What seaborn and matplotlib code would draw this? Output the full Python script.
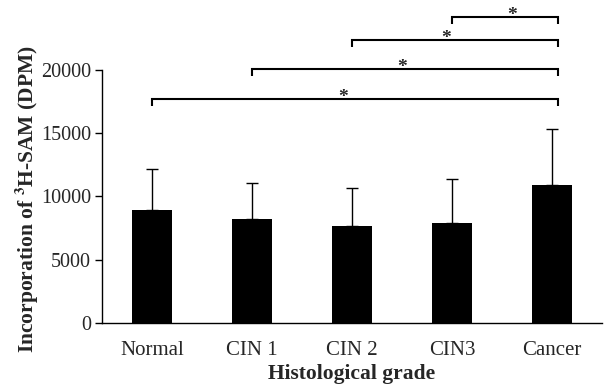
"""
Bar chart: 3H-SAM incorporation by histological grade.
"""

import numpy as np
import pandas as pd
import matplotlib
matplotlib.use("Agg")
import matplotlib.pyplot as plt
import seaborn as sns

grades = ["Normal", "CIN 1", "CIN 2", "CIN3", "Cancer"]
means = [8900, 8190, 7690, 7880, 10930]
sds = [3280, 2900, 2950, 3530, 4400]

# significance brackets: (left group, right group, bracket level)
pairs_left = [0, 1, 2, 3]
pairs_right = [4, 4, 4, 4]
bracket_levels = [17700, 20050, 22370, 24170]
star_offsets = [-0.09, -0.0, -0.06, 0.1]


def main():
    sns.set_theme(style="white")
    plt.rcParams["font.family"] = ["Liberation Serif", "DejaVu Serif"]
    plt.rcParams["mathtext.fontset"] = "stix"

    df = pd.DataFrame({"grade": grades, "mean": means, "sd": sds})

    fig = plt.figure(figsize=(6.05, 3.87), dpi=100)
    ax = fig.add_axes([102 / 605, 64 / 387, 500 / 605, 323 / 387])

    sns.barplot(data=df, x="grade", y="mean", color="black", width=0.4,
                edgecolor="none", saturation=1, errorbar=None, ax=ax)
    xs = [p.get_x() + p.get_width() / 2 for p in ax.patches]
    ax.errorbar(xs, df["mean"], yerr=[np.zeros(len(sds)), df["sd"]],
                fmt="none", ecolor="black", elinewidth=1, capsize=4,
                capthick=1)

    ax.set_xlim(-0.5, 4.5)
    ax.set_ylim(0, 25530)
    ax.set_yticks([0, 5000, 10000, 15000, 20000])
    ax.spines["left"].set_bounds(0, 20000)
    for s in ["top", "right"]:
        ax.spines[s].set_visible(False)
    for s in ["left", "bottom"]:
        ax.spines[s].set_color("black")
        ax.spines[s].set_linewidth(1)

    ax.set_xticks(range(len(grades)))
    ax.set_xticklabels(grades, fontsize=15)
    ax.set_xticks(np.arange(-0.5, 5, 1), minor=True)
    ax.tick_params(axis="x", which="major", length=0, pad=13)
    ax.tick_params(axis="x", which="minor", length=5, width=1,
                   color="black", direction="out")
    ax.tick_params(axis="y", length=5, width=1, color="black",
                   direction="out", labelsize=14.5, pad=3, left=True)

    ax.set_xlabel("Histological grade", fontsize=15.5, fontweight="bold",
                  labelpad=3)
    ax.set_ylabel(r"Incorporation of $^{\mathbf{3}}$H-SAM (DPM)",
                  fontsize=15.5, fontweight="bold")
    ax.yaxis.set_label_coords(-0.122, 0.384)

    # significance brackets
    drop = 550
    for left, right, level, off in zip(pairs_left, pairs_right,
                                       bracket_levels, star_offsets):
        x0, x1 = left, right + 0.06
        ax.plot([x0, x0, x1, x1], [level - drop, level, level, level - drop],
                color="black", lw=1.5, clip_on=False,
                solid_capstyle="butt", solid_joinstyle="miter")
        ax.text((left + right) / 2 + off, level - 200, "*", ha="center",
                va="baseline", fontsize=14, fontweight="bold")

    fig.savefig("out.png", dpi=100)
    plt.close(fig)


if __name__ == "__main__":
    main()
